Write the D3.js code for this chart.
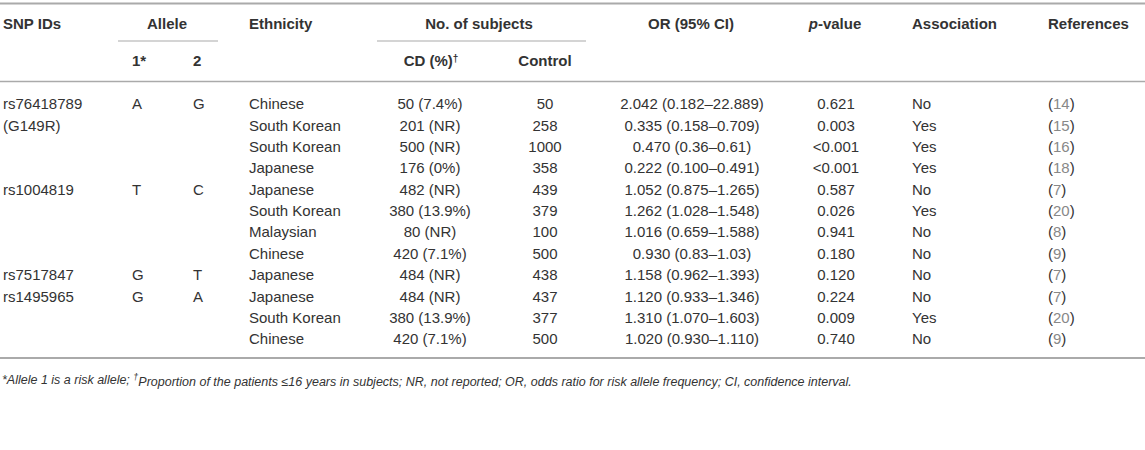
<!DOCTYPE html>
<html>
<head>
<meta charset="utf-8">
<script src="https://cdn.jsdelivr.net/npm/d3@7"></script>
<style>
  body { margin: 0; background: #fff; }
  text { font-family: "Liberation Sans", Arial, sans-serif; }
</style>
</head>
<body>
<script>
// table columns, one array each
var snpIds = ['rs76418789', '(G149R)', '', '', 'rs1004819', '', '', '', 'rs7517847', 'rs1495965', '', ''];
var allele1 = ['A', '', '', '', 'T', '', '', '', 'G', 'G', '', ''];
var allele2 = ['G', '', '', '', 'C', '', '', '', 'T', 'A', '', ''];
var ethnicity = ['Chinese', 'South Korean', 'South Korean', 'Japanese', 'Japanese', 'South Korean',
  'Malaysian', 'Chinese', 'Japanese', 'Japanese', 'South Korean', 'Chinese'];
var cdSubjects = ['50 (7.4%)', '201 (NR)', '500 (NR)', '176 (0%)', '482 (NR)', '380 (13.9%)',
  '80 (NR)', '420 (7.1%)', '484 (NR)', '484 (NR)', '380 (13.9%)', '420 (7.1%)'];
var controls = [50, 258, 1000, 358, 439, 379, 100, 500, 438, 437, 377, 500];
var orCI = ['2.042 (0.182–22.889)', '0.335 (0.158–0.709)', '0.470 (0.36–0.61)', '0.222 (0.100–0.491)',
  '1.052 (0.875–1.265)', '1.262 (1.028–1.548)', '1.016 (0.659–1.588)', '0.930 (0.83–1.03)',
  '1.158 (0.962–1.393)', '1.120 (0.933–1.346)', '1.310 (1.070–1.603)', '1.020 (0.930–1.110)'];
var pValues = ['0.621', '0.003', '<0.001', '<0.001', '0.587', '0.026', '0.941', '0.180', '0.120', '0.224', '0.009', '0.740'];
var association = ['No', 'Yes', 'Yes', 'Yes', 'No', 'Yes', 'No', 'No', 'No', 'No', 'Yes', 'No'];
var refs = [14, 15, 16, 18, 7, 20, 8, 9, 7, 7, 20, 9];

var w = 1145;
var h = 450;
var txt = '#333';
var rule = '#aaa';
var fs = 15;

var svg = d3.select('body')
            .append('svg')
            .attr('width', w)
            .attr('height', h);

// column slots -> x position and anchor
var colKeys = ['snp', 'a1', 'a2', 'eth', 'cd', 'ctrl', 'or', 'p', 'assoc', 'ref'];
var x = d3.scaleOrdinal()
  .domain(colKeys)
  .range([3, 132, 193, 249, 430, 545, 692, 836, 912, 1048]);
var anchor = { snp: 'start', a1: 'start', a2: 'start', eth: 'start', cd: 'middle',
  ctrl: 'middle', or: 'middle', p: 'middle', assoc: 'start', ref: 'start' };

var rowIdx = d3.range(ethnicity.length);
var y = d3.scalePoint()
  .domain(rowIdx)
  .range([104, 339]);

// rules
function hline(x1, x2, yy, sw) {
  svg.append('line')
    .attr('x1', x1).attr('x2', x2)
    .attr('y1', yy).attr('y2', yy)
    .attr('stroke', rule)
    .attr('stroke-width', sw);
}
hline(0, w, 3.5, 2);
hline(118, 218, 41, 1.2);
hline(377, 586, 41, 1.2);
hline(0, w, 81.5, 1.5);
hline(0, w, 358, 2);

// header
var head1 = [
  { t: 'SNP IDs', x: 3, a: 'start' },
  { t: 'Allele', x: 167, a: 'middle' },
  { t: 'Ethnicity', x: 249, a: 'start' },
  { t: 'No. of subjects', x: 479, a: 'middle' },
  { t: 'OR (95% CI)', x: 691, a: 'middle' },
  { t: 'Association', x: 912, a: 'start' },
  { t: 'References', x: 1048, a: 'start' }
];
svg.selectAll('text.h1')
  .data(head1)
  .enter()
  .append('text')
    .attr('class', 'h1')
    .attr('x', d => d.x)
    .attr('y', 24)
    .attr('dy', '0.35em')
    .attr('text-anchor', d => d.a)
    .attr('font-weight', 'bold')
    .attr('font-size', fs)
    .attr('fill', txt)
    .text(d => d.t);

var pv = svg.append('text')
  .attr('x', 835).attr('y', 24).attr('dy', '0.35em')
  .attr('text-anchor', 'middle')
  .attr('font-weight', 'bold')
  .attr('font-size', fs)
  .attr('fill', txt);
pv.append('tspan').attr('font-style', 'italic').text('p');
pv.append('tspan').text('-value');

var h2 = svg.append('g').attr('font-weight', 'bold').attr('font-size', fs).attr('fill', txt);
h2.append('text').attr('x', x('a1')).attr('y', 61).attr('dy', '0.35em').text('1*');
h2.append('text').attr('x', x('a2')).attr('y', 61).attr('dy', '0.35em').text('2');
var cdh = h2.append('text').attr('x', 431).attr('y', 61).attr('dy', '0.35em').attr('text-anchor', 'middle');
cdh.append('tspan').text('CD (%)');
cdh.append('tspan').attr('dy', '-0.45em').attr('font-size', 10).text('†');
h2.append('text').attr('x', x('ctrl')).attr('y', 61).attr('dy', '0.35em').attr('text-anchor', 'middle').text('Control');

// body cells
var columns = {
  snp: snpIds, a1: allele1, a2: allele2, eth: ethnicity, cd: cdSubjects,
  ctrl: controls, or: orCI, p: pValues, assoc: association
};
var cells = [];
rowIdx.forEach(i => {
  colKeys.slice(0, 9).forEach(k => cells.push({ k: k, i: i, v: columns[k][i] }));
});

svg.append('g')
  .attr('font-size', fs)
  .attr('fill', txt)
  .selectAll('text')
  .data(cells)
  .enter()
  .append('text')
    .attr('x', d => x(d.k))
    .attr('y', d => y(d.i))
    .attr('dy', '0.35em')
    .attr('text-anchor', d => anchor[d.k])
    .text(d => d.v);

// references: dark parens, grey link digits
var refText = svg.append('g')
  .attr('font-size', fs)
  .selectAll('text')
  .data(refs)
  .enter()
  .append('text')
    .attr('x', x('ref'))
    .attr('y', (d, i) => y(i))
    .attr('dy', '0.35em')
    .attr('fill', txt);
refText.append('tspan').text('(');
refText.append('tspan').attr('fill', '#888').text(d => d);
refText.append('tspan').text(')');

// footnote
var fn = svg.append('text')
  .attr('x', 2)
  .attr('y', 380)
  .attr('dy', '0.35em')
  .attr('font-size', 12.5)
  .attr('font-style', 'italic')
  .attr('fill', txt);
fn.append('tspan').text('*Allele 1 is a risk allele; ');
fn.append('tspan').attr('dy', '-0.45em').attr('font-size', 9).text('†');
fn.append('tspan').attr('dy', '0.45em').text('Proportion of the patients ≤16 years in subjects; NR, not reported; OR, odds ratio for risk allele frequency; CI, confidence interval.');
</script>
</body>
</html>
